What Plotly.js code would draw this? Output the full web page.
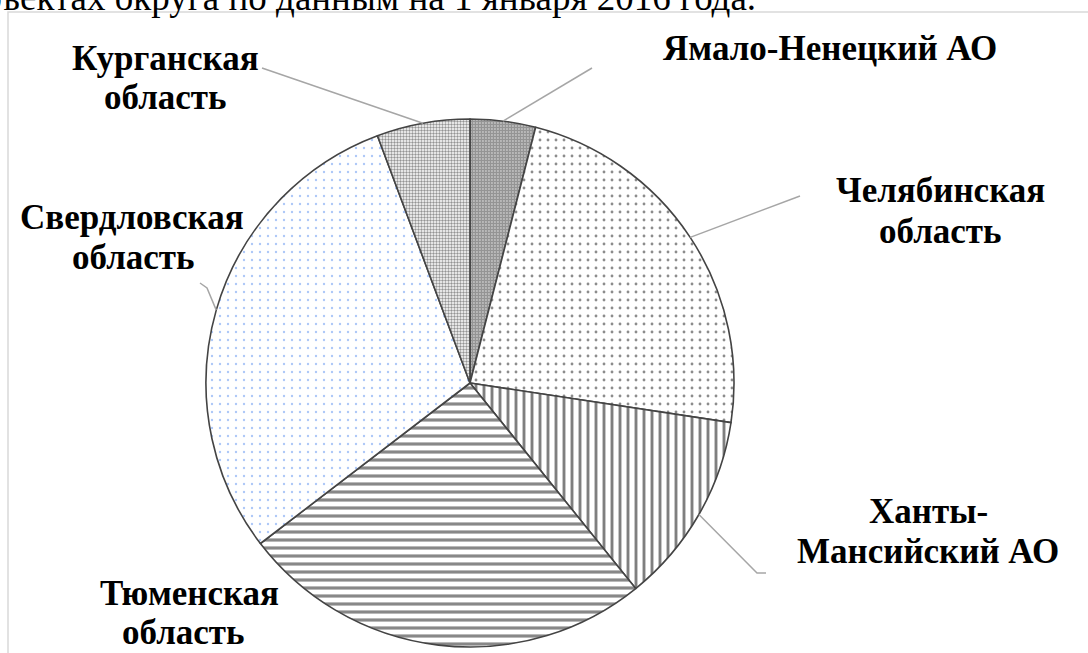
<!DOCTYPE html>
<html>
<head>
<meta charset="utf-8">
<script src="https://cdn.plot.ly/plotly-3.0.1.min.js"></script>
<style>html,body{margin:0;padding:0;background:#fff;}#chart{width:1088px;height:653px;}</style>
</head>
<body>
<div id="chart"></div>
<script>
// ---- data ----
const regions = ['Ямало-Ненецкий АО', 'Челябинская область', 'Ханты-Мансийский АО', 'Тюменская область', 'Свердловская область', 'Курганская область'];
const shares = [4.0, 23.4, 11.8, 25.4, 29.7, 5.7];
const labelLines = [
  ['Ямало-Ненецкий АО'],
  ['Челябинская', 'область'],
  ['Ханты-', 'Мансийский АО'],
  ['Тюменская', 'область'],
  ['Свердловская', 'область'],
  ['Курганская', 'область']
];
const captionText = 'субъектах округа по данным на 1 января 2016 года.';

// ---- layout constants (pixels) ----
const W = 1088, H = 653;
const CX = 470, CY = 383, R = 264;
const labelPos = [
  [{x: 830, y: 48}],
  [{x: 940, y: 190}, {x: 940, y: 231}],
  [{x: 928, y: 511}, {x: 928, y: 551}],
  [{x: 189, y: 593}, {x: 183, y: 632}],
  [{x: 132, y: 217}, {x: 133, y: 257}],
  [{x: 165, y: 58}, {x: 165, y: 98}]
];
const leaderEnds = [
  [[592, 68]],
  [[800, 196]],
  [[766, 573], [757, 573]],
  null,
  [[200, 283], [207, 288]],
  [[262, 68]]
];
const patterns = [
  {shape: '.', size: 3, solidity: 0.8, fgcolor: '#2a2a2a', bgcolor: '#ffffff'},
  {shape: '.', size: 8, solidity: 0.1, fgcolor: '#1a1a1a', bgcolor: '#ffffff'},
  {shape: '|', size: 8, solidity: 0.36, fgcolor: '#000000', bgcolor: '#ffffff'},
  {shape: '-', size: 8, solidity: 0.4, fgcolor: '#111111', bgcolor: '#ffffff'},
  {shape: '.', size: 8, solidity: 0.07, fgcolor: '#5b8ff0', bgcolor: '#ffffff'},
  {shape: '.', size: 3, solidity: 0.5, fgcolor: '#2a2a2a', bgcolor: '#ffffff'}
];

const px = x => x / W;
const py = y => 1 - y / H;

const trace = {
  type: 'pie',
  labels: regions,
  values: shares,
  sort: false,
  direction: 'clockwise',
  rotation: 0,
  textinfo: 'none',
  hoverinfo: 'label+percent',
  showlegend: false,
  domain: {x: [px(CX - R), px(CX + R)], y: [py(CY + R), py(CY - R)]},
  marker: {
    colors: regions.map(() => '#ffffff'),
    pattern: {
      shape: patterns.map(p => p.shape),
      size: patterns.map(p => p.size),
      solidity: patterns.map(p => p.solidity),
      fgcolor: patterns.map(p => p.fgcolor),
      bgcolor: patterns.map(p => p.bgcolor),
      fillmode: 'overlay'
    },
    line: {color: '#444444', width: 1.6}
  }
};

// leader lines computed from slice mid-angles
const total = shares.reduce((a, b) => a + b, 0);
const shapes = [];
let cum = 0;
shares.forEach((v, i) => {
  const mid = (cum + v / 2) / total * 2 * Math.PI;
  cum += v;
  const ex = CX + R * Math.sin(mid), ey = CY - R * Math.cos(mid);
  const pts = leaderEnds[i];
  if (!pts) return;
  let path = 'M ' + px(ex) + ' ' + py(ey);
  for (let k = pts.length - 1; k >= 0; k--) path += ' L ' + px(pts[k][0]) + ' ' + py(pts[k][1]);
  shapes.push({type: 'path', xref: 'paper', yref: 'paper', path: path, line: {color: '#a6a6a6', width: 1.5}});
});
// chart frame
shapes.push({type: 'rect', xref: 'paper', yref: 'paper', x0: px(8), x1: px(1100), y0: py(670), y1: py(12), line: {color: '#d9d9d9', width: 1.5}, layer: 'below'});

const annotations = [];
labelLines.forEach((lines, i) => {
  lines.forEach((t, j) => {
    annotations.push({
      text: '<b>' + t + '</b>', xref: 'paper', yref: 'paper',
      x: px(labelPos[i][j].x), y: py(labelPos[i][j].y),
      xanchor: 'center', yanchor: 'middle', showarrow: false,
      font: {family: 'Liberation Serif, Times New Roman, serif', size: 35, color: '#000000'}
    });
  });
});
annotations.push({
  text: captionText, xref: 'paper', yref: 'paper', x: px(758), y: py(20),
  xanchor: 'right', yanchor: 'bottom', showarrow: false,
  font: {family: 'Liberation Serif, Times New Roman, serif', size: 37, color: '#000000'}
});

const layout = {
  width: W, height: H,
  margin: {l: 0, r: 0, t: 0, b: 0},
  paper_bgcolor: '#ffffff',
  shapes: shapes,
  annotations: annotations
};

Plotly.newPlot('chart', [trace], layout, {displayModeBar: false, staticPlot: true});
</script>
</body>
</html>
